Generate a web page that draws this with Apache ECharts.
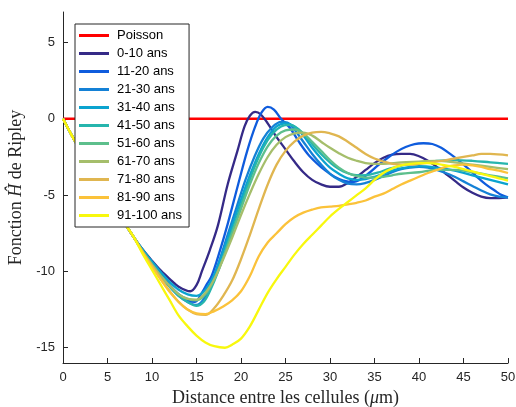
<!DOCTYPE html>
<html><head><meta charset="utf-8">
<script src="https://cdn.jsdelivr.net/npm/echarts@6/dist/echarts.min.js"></script>
<style>html,body{margin:0;padding:0;background:#fff}#c{width:516px;height:407px}</style>
</head><body><div id="c"></div>
<script>
const seriesNames = ['Poisson','0-10 ans','11-20 ans','21-30 ans','31-40 ans','41-50 ans','51-60 ans','61-70 ans','71-80 ans','81-90 ans','91-100 ans'];
const seriesColors = ['#ff0000','#352a87','#0f5cdd','#1481d6','#0ba3cf','#26b5ad','#5dbf8c','#a5be6b','#e0b650','#fbc23a','#f8f80d'];
const xTicks = [0,5,10,15,20,25,30,35,40,45,50];
const yTicks = [-15,-10,-5,0,5];

const startPart = [[0,0],[1,-1.1],[2,-2.1],[3,-3.1],[4,-4.05],[5,-5.0],[6,-5.95],[7,-6.9],[8,-7.8]];
const poisson = [[0,0],[50,0]];
const age0_10 = [[9,-8.6],[10,-9.3],[11,-9.95],[12,-10.5],[13,-11.0],[14.3,-11.3],[15,-10.9],[15.6,-10.0],[16.5,-8.6],[17.4,-7.0],[18.5,-4.3],[19.6,-2.1],[20.4,-0.5],[21,0.2],[21.6,0.45],[22.2,0.3],[23,-0.3],[24,-1.2],[25,-2.0],[26,-2.8],[27,-3.5],[28,-4.0],[29,-4.3],[30,-4.45],[31,-4.45],[32,-4.2],[33,-3.8],[34,-3.35],[35,-2.9],[36,-2.55],[37,-2.35],[38,-2.3],[39,-2.3],[40,-2.45],[41,-2.75],[42,-3.15],[43,-3.6],[44,-4.05],[45,-4.5],[46,-4.85],[47,-5.1],[48,-5.2],[49,-5.2],[50,-5.15]];
const age11_20 = [[9,-8.65],[10,-9.45],[11,-10.2],[12,-10.9],[13,-11.5],[14,-11.9],[14.8,-12.0],[15.5,-11.5],[16.2,-10.8],[16.7,-10.3],[17.6,-8.7],[18.5,-6.9],[19.7,-4.25],[20.7,-2.1],[21.6,-0.5],[22.3,0.4],[23,0.78],[23.7,0.6],[24.5,0.0],[25.5,-0.6],[26.5,-1.5],[27.5,-2.3],[28.5,-2.9],[29.5,-3.4],[30.5,-3.8],[31.5,-4.05],[32.5,-4.15],[33.5,-3.95],[34.5,-3.5],[35.5,-3.0],[36.5,-2.55],[37.5,-2.15],[38.5,-1.85],[39.5,-1.65],[40.5,-1.6],[41.5,-1.65],[42.5,-1.9],[43.5,-2.3],[44.5,-2.75],[45.5,-3.25],[46.5,-3.8],[47.5,-4.3],[48.5,-4.7],[49.3,-5.0],[50,-5.15]];
const age21_30 = [[9,-8.7],[10,-9.5],[11,-10.3],[12,-11.0],[13,-11.6],[14,-12.0],[15,-12.2],[15.7,-11.9],[16.5,-11.0],[17.5,-9.4],[18.5,-7.6],[19.5,-5.8],[20.5,-4.0],[21.5,-2.5],[22.5,-1.3],[23.5,-0.55],[24.5,-0.2],[25.2,-0.25],[26,-0.7],[27,-1.5],[28,-2.3],[29,-3.0],[30,-3.6],[31,-4.0],[32,-4.25],[33,-4.3],[34,-4.2],[35,-4.0],[36,-3.75],[37,-3.5],[38,-3.3],[39,-3.2],[40,-3.15],[41,-3.2],[42,-3.35],[43,-3.55],[44,-3.8],[45,-4.1],[46,-4.4],[47,-4.7],[48,-4.95],[49,-5.1],[50,-5.15]];
const age31_40 = [[9,-8.6],[10,-9.35],[11,-10.05],[12,-10.7],[13,-11.2],[14,-11.5],[15,-11.6],[16,-11.2],[17,-10.2],[18,-8.7],[19,-7.0],[20,-5.3],[21,-3.7],[22,-2.3],[23,-1.2],[24,-0.5],[25,-0.3],[26,-0.5],[27,-1.1],[28,-1.9],[29,-2.6],[30,-3.2],[31,-3.6],[32,-3.9],[33,-4.0],[34,-3.95],[35,-3.8],[36,-3.6],[37,-3.4],[38,-3.25],[39,-3.15],[40,-3.1],[42,-3.2],[44,-3.4],[46,-3.7],[48,-4.0],[50,-4.3]];
const age41_50 = [[9,-8.7],[10,-9.5],[11,-10.3],[12,-11.0],[13,-11.6],[14,-12.0],[15,-12.25],[15.8,-12.0],[16.5,-11.3],[17.5,-9.9],[18.5,-8.2],[19.5,-6.5],[20.5,-4.8],[21.5,-3.2],[22.5,-1.9],[23.5,-1.0],[24.5,-0.5],[25.5,-0.4],[26.5,-0.7],[27.5,-1.3],[28.5,-2.0],[29.5,-2.6],[30.5,-3.1],[31.5,-3.45],[32.5,-3.65],[33.5,-3.7],[34.5,-3.65],[35.5,-3.5],[36.5,-3.3],[37.5,-3.15],[38.5,-3.0],[40,-2.9],[42,-2.75],[44,-2.7],[46,-2.75],[48,-2.85],[50,-2.95]];
const age51_60 = [[9,-8.75],[10,-9.55],[11,-10.3],[12,-10.95],[13,-11.5],[14,-11.8],[15,-11.9],[16,-11.5],[17,-10.5],[18,-9.1],[19,-7.5],[20,-5.9],[21,-4.3],[22,-2.9],[23,-1.8],[24,-1.1],[25,-0.75],[26,-0.7],[27,-0.95],[28,-1.5],[29,-2.1],[30,-2.7],[31,-3.2],[32,-3.55],[33,-3.75],[34,-3.85],[35,-3.85],[36,-3.8],[37,-3.7],[38,-3.6],[40,-3.5],[42,-3.35],[44,-3.35],[46,-3.5],[48,-3.7],[50,-3.9]];
const age61_70 = [[9,-8.75],[10,-9.55],[11,-10.3],[12,-10.95],[13,-11.5],[14,-11.8],[15,-11.85],[16,-11.4],[17,-10.5],[18,-9.2],[19,-7.8],[20,-6.3],[21,-4.9],[22,-3.6],[23,-2.5],[24,-1.7],[25,-1.2],[26,-0.95],[27,-0.9],[28,-1.1],[29,-1.5],[30,-1.9],[31,-2.25],[32,-2.55],[33,-2.75],[34,-2.9],[35,-2.95],[36,-2.95],[38,-2.85],[40,-2.8],[42,-2.75],[44,-2.85],[46,-3.0],[48,-3.15],[50,-3.3]];
const age71_80 = [[9,-8.8],[10,-9.65],[11,-10.5],[12,-11.3],[13,-12.0],[14,-12.5],[15,-12.8],[16,-12.85],[17,-12.4],[18,-11.6],[19,-10.6],[20,-9.2],[21,-7.6],[22,-5.9],[23,-4.3],[24,-3.0],[25,-2.1],[26,-1.5],[27,-1.1],[28,-0.9],[29,-0.85],[30,-0.95],[31,-1.15],[32,-1.5],[33,-1.9],[34,-2.3],[35,-2.6],[36,-2.8],[37,-2.95],[38,-3.0],[39,-3.0],[40,-2.95],[42,-2.8],[44,-2.6],[46,-2.4],[47,-2.3],[48,-2.3],[50,-2.4]];
const age81_90 = [[9,-8.8],[10,-9.7],[11,-10.55],[12,-11.35],[13,-12.0],[14,-12.5],[15,-12.75],[16,-12.8],[17,-12.6],[18,-12.3],[19,-11.9],[20,-11.3],[21,-10.3],[22,-9.0],[23,-8.1],[24,-7.5],[25,-6.9],[26,-6.45],[27,-6.15],[28,-5.95],[29,-5.8],[30,-5.75],[31,-5.7],[32,-5.6],[33,-5.5],[34,-5.35],[35,-5.1],[36,-4.9],[37,-4.6],[38,-4.3],[39,-4.05],[40,-3.8],[41,-3.55],[42,-3.35],[43,-3.15],[44,-3.05],[45,-3.0],[46,-3.05],[47,-3.15],[48,-3.3],[49,-3.4],[50,-3.55]];
const age91_100 = [[9,-8.9],[10,-9.9],[11,-10.9],[12,-11.9],[13,-12.9],[14,-13.6],[15,-14.2],[16,-14.65],[17,-14.9],[18.2,-15.0],[19,-14.8],[20,-14.4],[21,-13.6],[22,-12.5],[23,-11.4],[24,-10.5],[25,-9.7],[26,-8.9],[27,-8.2],[28,-7.6],[29,-7.0],[30,-6.4],[31,-5.9],[32,-5.45],[33,-5.0],[34,-4.55],[35,-4.0],[36,-3.55],[37,-3.25],[38,-3.05],[39,-2.95],[40,-2.9],[41,-2.9],[42,-2.95],[43,-3.05],[44,-3.15],[45,-3.3],[46,-3.45],[47,-3.6],[48,-3.75],[49,-3.9],[50,-4.05]];

const curves = [poisson, age0_10, age11_20, age21_30, age31_40, age41_50, age51_60, age61_70, age71_80, age81_90, age91_100];

const chart = echarts.init(document.getElementById('c'), null, {renderer: 'canvas'});
const series = curves.map((c, i) => ({
  name: seriesNames[i],
  type: 'line',
  data: i === 0 ? c : startPart.concat(c),
  smooth: i === 0 ? false : 0.35,
  showSymbol: false,
  symbol: 'none',
  lineStyle: {color: seriesColors[i], width: i === 0 ? 2.5 : 2.3},
  itemStyle: {color: seriesColors[i]},
  animation: false,
  z: 2 + i
}));

chart.setOption({
  animation: false,
  backgroundColor: '#fff',
  grid: {left: 63, right: 8, top: 12, bottom: 44, containLabel: false, outerBoundsMode: 'none'},
  legend: {
    orient: 'vertical', left: 75, top: 24,
    data: seriesNames,
    icon: 'rect', itemWidth: 30, itemHeight: 3, itemGap: 3,
    padding: [4, 7, 4, 4],
    borderColor: '#262626', borderWidth: 1, backgroundColor: '#fff',
    textStyle: {fontFamily: 'Liberation Sans', fontSize: 13, color: '#000', lineHeight: 15, padding: [0,0,0,3]},
    z: 20
  },
  xAxis: {
    type: 'value', min: 0, max: 50, interval: 5,
    name: '{a|Distance entre les cellules (}{b|μ}{a|m)}',
    nameLocation: 'middle', nameGap: 25,
    nameTextStyle: {rich: {
      a: {fontFamily: 'Liberation Serif', fontSize: 18, color: '#262626'},
      b: {fontFamily: 'Liberation Serif', fontSize: 18, fontStyle: 'italic', color: '#262626'}}},
    axisLine: {show: true, onZero: false, lineStyle: {color: '#262626', width: 1}},
    axisTick: {show: true, inside: true, length: 5, lineStyle: {color: '#262626'}},
    axisLabel: {fontFamily: 'Liberation Sans', fontSize: 13, color: '#262626', margin: 8,
      customValues: xTicks},
    splitLine: {show: false}
  },
  yAxis: {
    type: 'value', min: -16, max: 7,
    name: '{a|Fonction }{b|Ĥ}{a| de Ripley}',
    nameLocation: 'middle', nameGap: 33, nameRotate: 90,
    nameTextStyle: {rich: {
      a: {fontFamily: 'Liberation Serif', fontSize: 18, color: '#262626'},
      b: {fontFamily: 'Liberation Serif', fontSize: 18, fontStyle: 'italic', color: '#262626'}}},
    axisLine: {show: true, onZero: false, lineStyle: {color: '#262626', width: 1}},
    axisTick: {show: true, inside: true, length: 5, lineStyle: {color: '#262626'}, customValues: yTicks},
    axisLabel: {fontFamily: 'Liberation Sans', fontSize: 13, color: '#262626', margin: 8, customValues: yTicks},
    splitLine: {show: false}
  },
  series: series
});
</script></body></html>
